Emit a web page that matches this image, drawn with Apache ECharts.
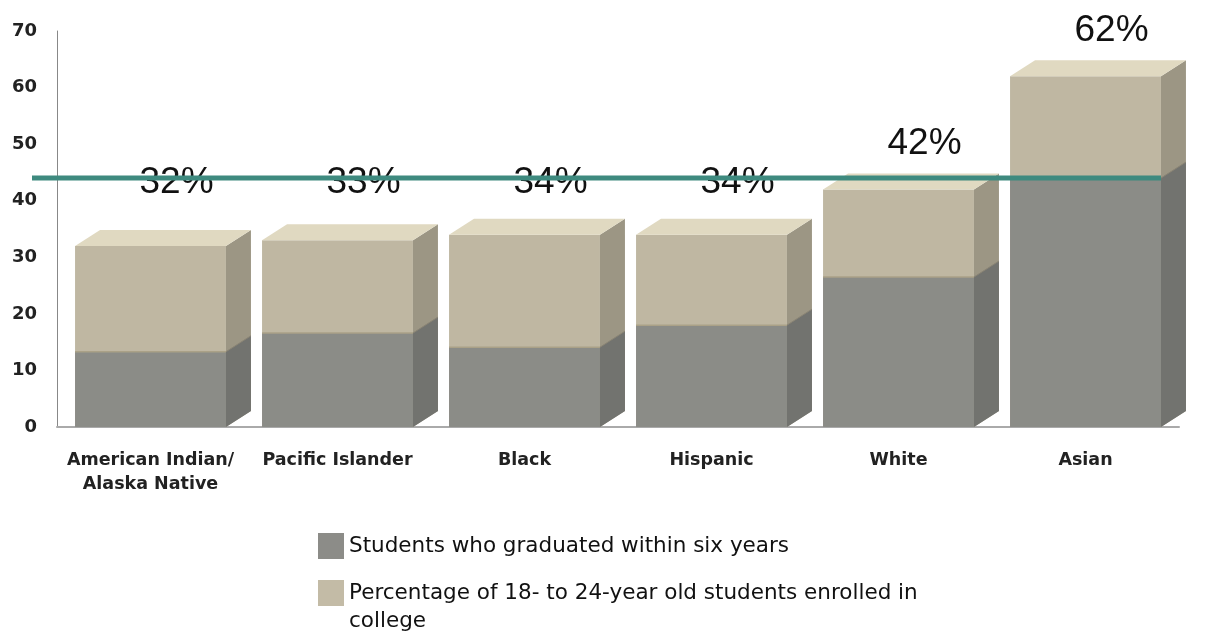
<!DOCTYPE html>
<html>
<head>
<meta charset="utf-8">
<script src="https://cdn.jsdelivr.net/npm/echarts@6/dist/echarts.min.js"></script>
<style>html,body{margin:0;padding:0;background:#fff;}#c{width:1209px;height:631px;}</style>
</head>
<body>
<div id="c"></div>
<script>
const categories = ['American Indian/\nAlaska Native', 'Pacific Islander', 'Black', 'Hispanic', 'White', 'Asian'];
const graduated = [13.3, 16.6, 14.1, 18, 26.5, 44];
const enrolled = [32, 33, 34, 34, 42, 62];
const referenceLine = 44;
const yTicks = [0, 10, 20, 30, 40, 50, 60, 70];

const gradName = 'Students who graduated within six years';
const enrName = 'Percentage of 18- to 24-year old students enrolled in college';
const enrLine1 = 'Percentage of 18- to 24-year old students enrolled in';
const enrLine2 = 'college';

const DX = 25, DY = 16;
function geom(api, i, v) {
  const band = api.size([1, 0])[0];
  const w = band * 0.807;
  const c = api.coord([i, 0]);
  const t = api.coord([i, v]);
  const x0 = c[0] - w / 2, x1 = x0 + w;
  return { band, w, x0, x1, yb: c[1], yt: t[1], cx: c[0] };
}

function renderEnrolled(params, api) {
  const i = api.value(0), v = api.value(1);
  const g = geom(api, i, v);
  const labelPos = api.coord([i, Math.max(v + 8, 43.2)]);
  return {
    type: 'group',
    children: [
      { type: 'rect', shape: { x: g.x0, y: g.yt, width: g.w, height: g.yb - g.yt }, style: { fill: '#bfb7a2' } },
      { type: 'polygon', shape: { points: [[g.x1, g.yb], [g.x1 + DX, g.yb - DY], [g.x1 + DX, g.yt - DY], [g.x1, g.yt]] }, style: { fill: '#9c9684' } },
      { type: 'polygon', shape: { points: [[g.x0, g.yt], [g.x0 + DX, g.yt - DY], [g.x1 + DX, g.yt - DY], [g.x1, g.yt]] }, style: { fill: '#e0d9c1' } },
      { type: 'text', z2: 5, style: { x: g.cx + 26, y: labelPos[1], text: v + '%', align: 'center', verticalAlign: 'middle', fill: '#111', font: '37px "Liberation Sans", sans-serif' } }
    ]
  };
}

function renderGraduated(params, api) {
  const i = api.value(0), v = api.value(1);
  const g = geom(api, i, v);
  return {
    type: 'group',
    children: [
      { type: 'rect', shape: { x: g.x0, y: g.yt, width: g.w, height: g.yb - g.yt }, style: { fill: '#8b8c87' } },
      { type: 'polygon', shape: { points: [[g.x1, g.yb], [g.x1 + DX, g.yb - DY], [g.x1 + DX, g.yt - DY], [g.x1, g.yt]] }, style: { fill: '#72736f' } },
      { type: 'line', shape: { x1: g.x0, y1: g.yt, x2: g.x1, y2: g.yt }, style: { stroke: '#aaa187', lineWidth: 1.5 } },
      { type: 'line', shape: { x1: g.x1, y1: g.yt, x2: g.x1 + DX, y2: g.yt - DY }, style: { stroke: '#8a8474', lineWidth: 1 } }
    ]
  };
}

function renderRefLine(params, api) {
  const v = api.value(1);
  const p = api.coord([0, v]);
  const last = geom(api, categories.length - 1, v);
  return { type: 'line', shape: { x1: 32, y1: p[1], x2: last.x1, y2: p[1] }, style: { stroke: '#3e8a7f', lineWidth: 5 } };
}

const legendText = { fontFamily: 'DejaVu Sans', fontSize: 21.5, color: '#111' };

const chart = echarts.init(document.getElementById('c'), null, { renderer: 'canvas' });
chart.setOption({
  animation: false,
  backgroundColor: '#fff',
  grid: { left: 57, right: 30, top: 31, bottom: 204 },
  xAxis: {
    type: 'category',
    data: categories,
    axisLine: { lineStyle: { color: '#aaa', width: 2 } },
    axisTick: { show: false },
    axisLabel: { margin: 21, fontFamily: 'DejaVu Sans', fontWeight: 'bold', fontSize: 17.5, color: '#222', lineHeight: 24, interval: 0 }
  },
  yAxis: {
    type: 'value', min: 0, max: 70, interval: 10,
    axisLine: { show: true, lineStyle: { color: '#888', width: 1 } },
    axisTick: { show: false },
    splitLine: { show: false },
    axisLabel: { margin: 20, fontFamily: 'DejaVu Sans', fontWeight: 'bold', fontSize: 18, color: '#222',
      formatter: v => yTicks.includes(v) ? String(v) : '' }
  },
  legend: [
    {
      left: 318, top: 533, padding: 0,
      itemWidth: 26, itemHeight: 26,
      icon: 'rect',
      textStyle: legendText,
      data: [ { name: gradName } ]
    },
    {
      left: 318, top: 580, padding: 0,
      itemWidth: 26, itemHeight: 26,
      icon: 'rect',
      textStyle: legendText,
      formatter: () => enrLine1,
      data: [ { name: enrName } ]
    }
  ],
  graphic: [
    { type: 'text', left: 349, top: 610, silent: true,
      style: { text: enrLine2, font: '21.5px "DejaVu Sans"', fill: '#111' } }
  ],
  series: [
    { type: 'custom', name: enrName, renderItem: renderEnrolled, clip: false, z: 2,
      itemStyle: { color: '#c3bba6' },
      data: enrolled.map((v, i) => [i, v]) },
    { type: 'custom', name: gradName, renderItem: renderGraduated, clip: false, z: 3,
      itemStyle: { color: '#8c8c88' },
      data: graduated.map((v, i) => [i, v]) },
    { type: 'custom', name: 'ref', renderItem: renderRefLine, clip: false, z: 10, silent: true,
      data: [[0, referenceLine]] }
  ]
});
</script>
</body>
</html>
